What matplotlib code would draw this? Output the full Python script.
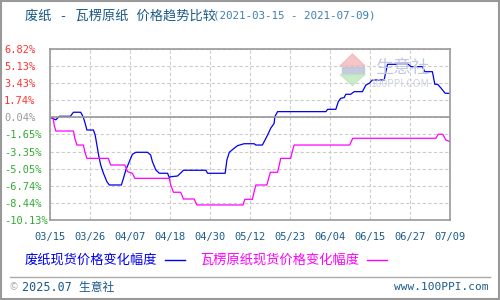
import matplotlib
matplotlib.use("Agg")
import numpy as np
import matplotlib.pyplot as plt
from matplotlib.lines import Line2D
from matplotlib.patches import Polygon, Rectangle

plt.rcParams['font.family'] = ['Noto Sans CJK SC', 'DejaVu Sans']

# data: day offset from 2021-03-15, change in %
waste_days = [0, 0.7, 1.7, 2.7, 5.9, 6.8, 8.9, 9.6, 10.2, 10.7, 12.6, 13.1, 13.6, 14.1,
              14.7, 15.5, 16.5, 17.2, 20.7, 21.3, 22.0, 23.0, 23.9, 24.9, 28.3, 29.2,
              29.7, 30.7, 31.7, 34.1, 34.6, 35.0, 37.0, 38.7, 45.2, 45.7, 50.8, 51.3,
              52.0, 53.4, 54.4, 56.3, 59.2, 59.7, 61.6, 62.1, 63.1, 64.0, 65.0, 65.2,
              66.0, 80.0, 80.5, 82.9, 83.6, 84.3, 85.3, 85.8, 87.2, 88.2, 90.6, 91.6,
              92.6, 93.5, 96.9, 97.4, 97.9, 103.9, 104.7, 108.0, 108.7, 110.9, 111.6,
              112.4, 113.3, 114.6, 116]
waste_vals = [0.04, -0.05, -0.2, 0.15, 0.15, 0.55, 0.55, 0.11, -0.55, -1.21, -1.21, -1.71,
              -2.7, -3.69, -4.68, -5.5, -6.33, -6.66, -6.66, -6.0, -5.17, -4.35, -3.62,
              -3.42, -3.42, -3.69, -4.35, -5.17, -5.5, -5.5, -5.93, -5.84, -5.77, -5.2,
              -5.2, -5.5, -5.5, -4.18, -3.42, -3.02, -2.76, -2.57, -2.57, -2.7, -2.7,
              -2.37, -1.71, -1.04, -0.55, 0.11, 0.61, 0.61, 0.84, 0.84, 1.60, 1.93, 2.0,
              2.33, 2.33, 2.59, 2.59, 3.25, 3.42, 3.75, 3.75, 4.57, 5.3, 5.3, 5.07, 5.07,
              4.57, 4.57, 3.32, 3.32, 2.98, 2.43, 2.43]

board_days = [0, 0.9, 1.2, 1.7, 6.8, 7.2, 7.8, 9.7, 10.1, 10.7, 16.9, 17.6, 21.7, 22.5,
              23.9, 24.6, 34.6, 35.0, 35.8, 37.9, 38.7, 41.8, 42.6, 56.0, 56.5, 58.7,
              59.2, 59.7, 62.9, 63.4, 63.9, 66.0, 66.5, 66.9, 69.8, 70.3, 70.8, 86.9,
              87.8, 111.9, 112.6, 113.9, 114.8, 116]
board_vals = [0.04, 0.04, -0.71, -1.31, -1.31, -2.03, -2.7, -2.7, -3.36, -4.02, -4.02,
              -4.68, -4.68, -5.34, -5.5, -6.0, -6.0, -6.66, -7.38, -7.38, -8.05, -8.05,
              -8.64, -8.64, -8.08, -8.08, -7.32, -6.66, -6.66, -6.0, -5.40, -5.40, -4.68,
              -4.02, -4.02, -3.29, -2.70, -2.70, -2.03, -2.03, -1.63, -1.63, -2.2, -2.37]

x_labels = ["03/15", "03/26", "04/07", "04/18", "04/30", "05/12",
            "05/23", "06/04", "06/15", "06/27", "07/09"]
y_ticks = [6.82, 5.13, 3.43, 1.74, 0.04, -1.65, -3.35, -5.05, -6.74, -8.44, -10.13]

fig = plt.figure(figsize=(5, 3), dpi=100)
ax = fig.add_axes([0.1, 0.2667, 0.8, 0.57])

ax.plot(waste_days, waste_vals, color="#0000ee", lw=0.9)
ax.plot(board_days, board_vals, color="#ff00ff", lw=0.9)

ax.set_xlim(0, 116)
ax.set_ylim(-10.13, 6.82)
xt = np.linspace(0, 116, len(x_labels))
ax.set_xticks(xt)
ax.set_xticklabels(x_labels, family="DejaVu Sans Mono", fontsize=7.5, color="#1a5a8a")
ax.set_yticks(y_ticks)
ax.set_yticklabels([f"{v:.2f}%" for v in y_ticks], family="DejaVu Sans Mono", fontsize=7.5)
for lab, v in zip(ax.get_yticklabels(), y_ticks):
    lab.set_ha("left")
    if v > 0.05:
        lab.set_color("#ff3333")
    elif v > 0:
        lab.set_color("#999999")
    else:
        lab.set_color("#33aa33")
ax.tick_params(axis="y", length=0, pad=33)
ax.tick_params(axis="x", length=0, pad=9)

ax.grid(True, color="#cccccc", ls=(0, (3, 2)), lw=0.8)
ax.axhline(0.04, color="#999999", lw=1.2)
for s in ax.spines.values():
    s.set_color("#999999")
    s.set_linewidth(1.2)

# title
fig.text(0.05, 0.948, "废纸 - 瓦楞原纸 价格趋势比较", fontsize=9.5, color="#1a5a8a",
         va="center", family=["DejaVu Sans Mono", "Noto Sans CJK SC"])
fig.text(0.426, 0.948, "(2021-03-15 - 2021-07-09)", fontsize=7.8, color="#3c7fb0",
         va="center", family="DejaVu Sans Mono")

# legend
fig.text(0.05, 0.133, "废纸现货价格变化幅度", fontsize=9.5, color="#0000ee", va="center")
fig.add_artist(Line2D([0.33, 0.37], [0.133, 0.133], color="#0000ee", lw=1))
fig.text(0.40, 0.133, "瓦楞原纸现货价格变化幅度", fontsize=9.5, color="#ff00ff", va="center")
fig.add_artist(Line2D([0.733, 0.773], [0.133, 0.133], color="#ff00ff", lw=1))

# footer
fig.add_artist(Line2D([0.02, 0.98], [0.077, 0.077], color="#aaaaaa", lw=1))
fig.text(0.02, 0.043, "©", fontsize=7, color="#aaaaaa", va="center")
fig.text(0.045, 0.043, "2025.07 生意社", fontsize=8.5, color="#1a5a8a", va="center",
         family=["DejaVu Sans Mono", "Noto Sans CJK SC"])
fig.text(0.978, 0.043, "www.100PPI.com", fontsize=8, color="#1a5a8a", va="center",
         ha="right", family="DejaVu Sans Mono")

# watermark
fig.add_artist(Polygon([[0.68, 0.78], [0.73, 0.78], [0.705, 0.82]], closed=True,
                       color="#f4b8b8", alpha=0.8))
fig.add_artist(Rectangle((0.683, 0.755), 0.044, 0.022, color="#b8c0d8", alpha=0.8))
fig.add_artist(Polygon([[0.68, 0.752], [0.73, 0.752], [0.705, 0.715]], closed=True,
                       color="#bfe6bf", alpha=0.8))
fig.text(0.805, 0.775, "生意社", fontsize=13, color="#c0c8e0", ha="center", va="center")
fig.text(0.80, 0.72, "100PPI.COM", fontsize=7.5, color="#cfd4e0", ha="center",
         va="center")

# outer frame
fig.add_artist(Rectangle((0.001, 0.002), 0.997, 0.995, fill=False, ec="#999999", lw=1.5))

fig.savefig("out.png", dpi=100)
